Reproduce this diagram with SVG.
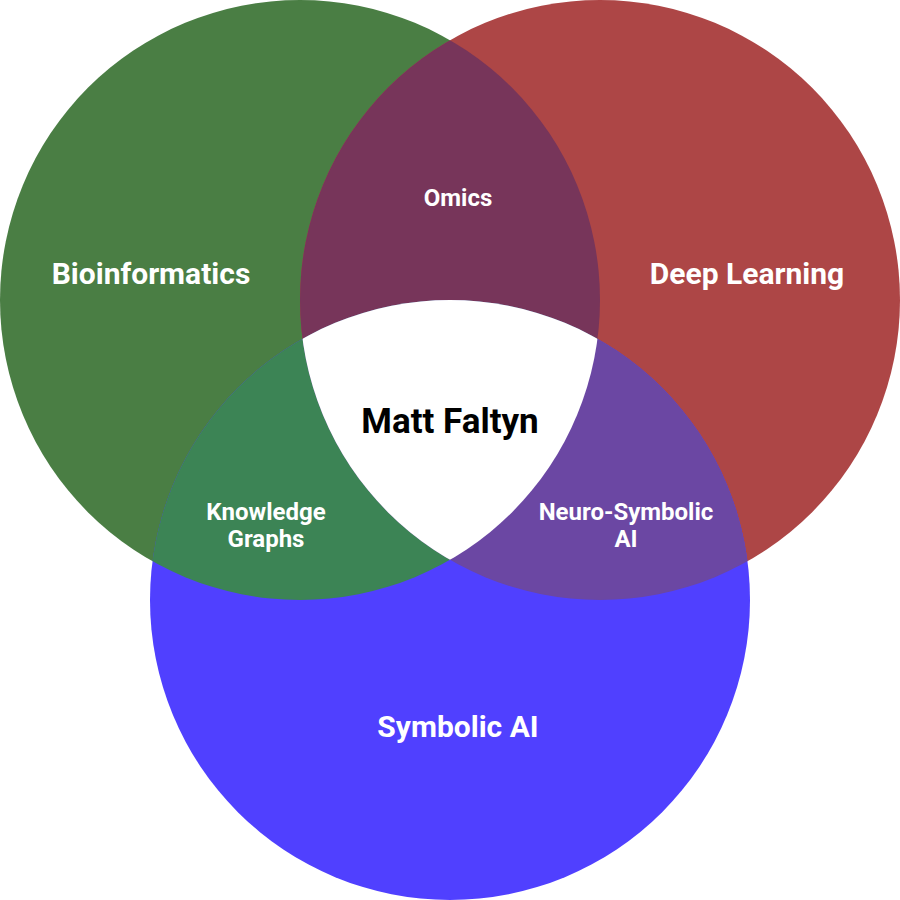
<svg xmlns="http://www.w3.org/2000/svg" width="900" height="900" viewBox="0 0 900 900">
  <style>
    text { font-family: Roboto, "Liberation Sans", sans-serif; font-weight: 700; text-anchor: middle; fill: #ffffff; }
    .big { font-size: 30px; }
    .small { font-size: 24px; }
    .center { font-size: 35px; fill: #000000; }
  </style>
  <defs>
    <clipPath id="clipG"><circle cx="300" cy="300" r="300"/></clipPath>
    <clipPath id="clipR"><circle cx="600" cy="300" r="300"/></clipPath>
  </defs>
  <rect width="900" height="900" fill="#ffffff"/>

  <!-- three sets -->
  <g id="bioinformatics">
    <circle cx="300" cy="300" r="300" fill="#4a7e44"/>
  </g>
  <g id="deep-learning">
    <circle cx="600" cy="300" r="300" fill="#ad4646"/>
  </g>
  <g id="symbolic-ai">
    <circle cx="450" cy="600" r="300" fill="#5040ff"/>
  </g>

  <!-- pairwise intersections -->
  <g id="omics">
    <circle cx="600" cy="300" r="300" fill="#77355a" clip-path="url(#clipG)"/>
  </g>
  <g id="knowledge-graphs">
    <circle cx="450" cy="600" r="300" fill="#3c8455" clip-path="url(#clipG)"/>
  </g>
  <g id="neuro-symbolic-ai">
    <circle cx="450" cy="600" r="300" fill="#6b47a3" clip-path="url(#clipR)"/>
  </g>

  <!-- triple intersection -->
  <g id="matt-faltyn">
    <g clip-path="url(#clipR)">
      <circle cx="450" cy="600" r="300" fill="#ffffff" clip-path="url(#clipG)"/>
    </g>
  </g>

  <g id="labels">
    <text class="big" x="151" y="284">Bioinformatics</text>
    <text class="big" x="747" y="284">Deep Learning</text>
    <text class="big" x="458" y="737">Symbolic AI</text>
    <text class="small" x="458" y="206">Omics</text>
    <text class="small" x="266" y="520">Knowledge</text>
    <text class="small" x="266" y="547">Graphs</text>
    <text class="small" x="626" y="520">Neuro-Symbolic</text>
    <text class="small" x="626" y="547">AI</text>
    <text class="center" x="450" y="433">Matt Faltyn</text>
  </g>
</svg>
